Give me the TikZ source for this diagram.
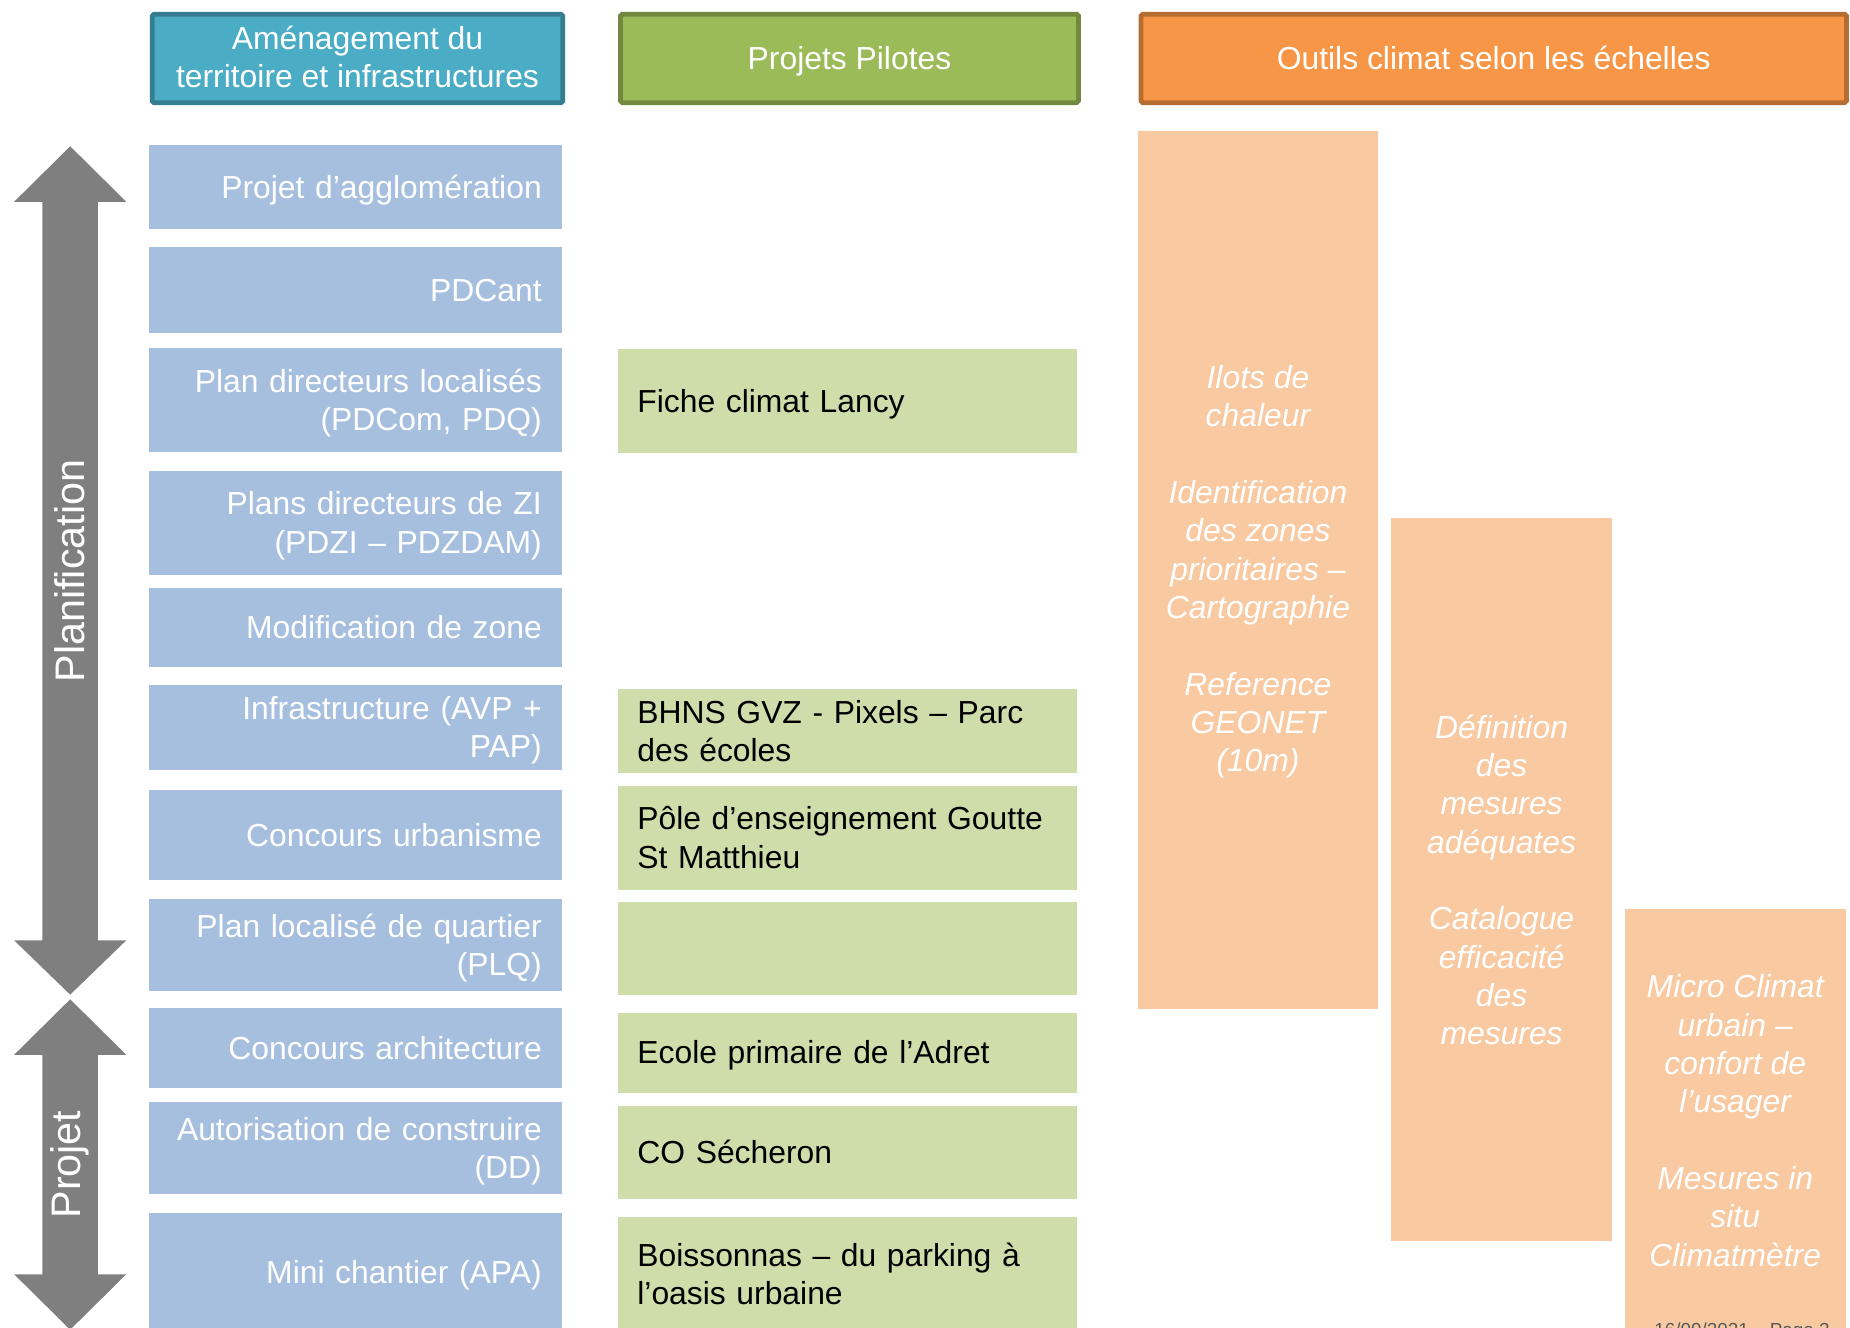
\documentclass[tikz,border=0pt]{standalone}
\usepackage{fontspec}
\setmainfont{Liberation Sans}
\definecolor{cBlue}{RGB}{167,191,222}
\definecolor{cGreen}{RGB}{207,221,170}
\definecolor{cOrange}{RGB}{249,201,161}
\definecolor{hTeal}{RGB}{75,172,198}
\definecolor{hTealB}{RGB}{53,125,145}
\definecolor{hGreen}{RGB}{155,187,89}
\definecolor{hGreenB}{RGB}{113,137,63}
\definecolor{hOrange}{RGB}{247,150,70}
\definecolor{hOrangeB}{RGB}{182,109,49}
\definecolor{cArrow}{RGB}{127,127,127}
\definecolor{cFoot}{RGB}{89,89,89}
\newcommand\tstrut{\rule[-6pt]{0pt}{31pt}}
\tikzset{
  txt/.style={font=\fontsize{27}{32.5}\selectfont,
    execute at begin node=\tstrut, execute at end node=\tstrut},
  hdr/.style={txt, rectangle, rounded corners=1.5pt, line width=4pt, text=white,
    align=center, anchor=north west, inner sep=0pt, minimum height=75pt},
  hdrtext/.style={font=\fontsize{27}{32.5}\selectfont, text=white, align=center, inner sep=0pt},
  bluebox/.style={txt, rectangle, fill=cBlue, text=white, align=right, anchor=north west,
    minimum width=350pt, text width=316pt, inner xsep=17pt, inner ysep=0pt},
  greenbox/.style={txt, rectangle, fill=cGreen, text=black, align=left, anchor=north west,
    minimum width=389pt, text width=357pt, inner xsep=16pt, inner ysep=0pt},
  orangebox/.style={rectangle, fill=cOrange, anchor=north west, inner sep=0pt},
  orangetext/.style={font=\fontsize{27}{32.5}\selectfont\itshape, text=white, align=center, inner sep=0pt},
  biglabel/.style={font=\fontsize{35}{40}\selectfont, text=white, rotate=90},
  bigarrow/.style={fill=cArrow, draw=none}
}
\begin{document}
\begin{tikzpicture}[x=1pt,y=-1pt]
\useasboundingbox (0,0) rectangle (1568,1125);
\clip (0,0) rectangle (1568,1125);
\fill[white] (0,0) rectangle (1568,1125);

% headers
\node[hdr, draw=hTealB, fill=hTeal, minimum width=348pt] (h1) at (127,10) {};
\node[hdrtext] (h1t) at ([yshift=1pt]h1.center) {Aménagement du\\territoire et infrastructures};
\node[hdr, draw=hGreenB, fill=hGreen, minimum width=388pt] (h2) at (524,10)
  {Projets Pilotes};
\node[hdr, draw=hOrangeB, fill=hOrange, minimum width=598pt] (h3) at (965,10)
  {Outils climat selon les échelles};

% blue column
\node[bluebox, minimum height=71pt] (b1) at (126,123) {Projet d’agglomération};
\node[bluebox, minimum height=73pt] (b2) at (126,209) {PDCant};
\node[bluebox, minimum height=88pt] (b3) at (126,295) {Plan directeurs localisés\\(PDCom, PDQ)};
\node[bluebox, minimum height=88pt] (b4) at (126,399) {Plans directeurs de ZI\\(PDZI – PDZDAM)};
\node[bluebox, minimum height=67pt] (b5) at (126,498) {Modification de zone};
\node[bluebox, minimum height=72pt] (b6) at (126,580) {Infrastructure (AVP +\\PAP)};
\node[bluebox, minimum height=77pt] (b7) at (126,669) {Concours urbanisme};
\node[bluebox, minimum height=78pt] (b8) at (126,762) {Plan localisé de quartier\\(PLQ)};
\node[bluebox, minimum height=68pt] (b9) at (126,854) {Concours architecture};
\node[bluebox, minimum height=78pt] (b10) at (126,934) {Autorisation de construire\\(DD)};
\node[bluebox, minimum height=100pt] (b11) at (126,1028) {Mini chantier (APA)};

% green column
\node[greenbox, minimum height=88pt] (g1) at (524,296) {Fiche climat Lancy};
\node[greenbox, minimum height=71pt] (g2) at (524,584) {BHNS GVZ - Pixels – Parc\\des écoles};
\node[greenbox, minimum height=88pt] (g3) at (524,666) {Pôle d’enseignement Goutte\\St Matthieu};
\node[greenbox, minimum height=79pt] (g4) at (524,764) {};
\node[greenbox, minimum height=68pt] (g5) at (524,858) {Ecole primaire de l’Adret};
\node[greenbox, minimum height=79pt] (g6) at (524,937) {CO Sécheron};
\node[greenbox, minimum height=98pt] (g7) at (524,1031) {Boissonnas – du parking à\\l’oasis urbaine};

% orange column
\node[orangebox, minimum width=204pt, minimum height=744pt] (o1) at (964,111) {};
\node[orangetext] (o1t) at ([yshift=-1.5pt]o1.center)
  {Ilots de\\chaleur\\\mbox{}\\Identification\\des zones\\prioritaires –\\Cartographie\\\mbox{}\\Reference\\GEONET\\(10m)};
\node[orangebox, minimum width=187pt, minimum height=613pt] (o2) at (1179,439) {};
\node[orangetext] (o2t) at (o2.center)
  {Définition\\des\\mesures\\adéquates\\\mbox{}\\Catalogue\\efficacité\\des\\mesures};
\node[orangebox, minimum width=187pt, minimum height=359pt] (o3) at (1377,770) {};
\node[orangetext] (o3t) at (o3.center)
  {Micro Climat\\urbain –\\confort de\\l’usager\\\mbox{}\\Mesures in\\situ\\Climatmètre};

% arrows
\fill[bigarrow] (59.5,124) -- (107,171) -- (83,171) -- (83,797) -- (107,797) -- (59.5,843)
  -- (12,797) -- (36,797) -- (36,171) -- (12,171) -- cycle;
\node[biglabel] (plan) at (59.5,484) {Planification};
\fill[bigarrow] (59.5,847) -- (107,894) -- (83,894) -- (83,1080) -- (107,1080) -- (59.5,1127)
  -- (12,1080) -- (36,1080) -- (36,894) -- (12,894) -- cycle;
\node[biglabel] (proj) at (59.5,987) {Projet};

% footer (cut by page edge)
\node[anchor=base west, font=\fontsize{16}{18}\selectfont, text=cFoot, inner sep=0pt] (foot)
  at (1402,1133) {16/09/2021 – Page 2};
\end{tikzpicture}
\end{document}
